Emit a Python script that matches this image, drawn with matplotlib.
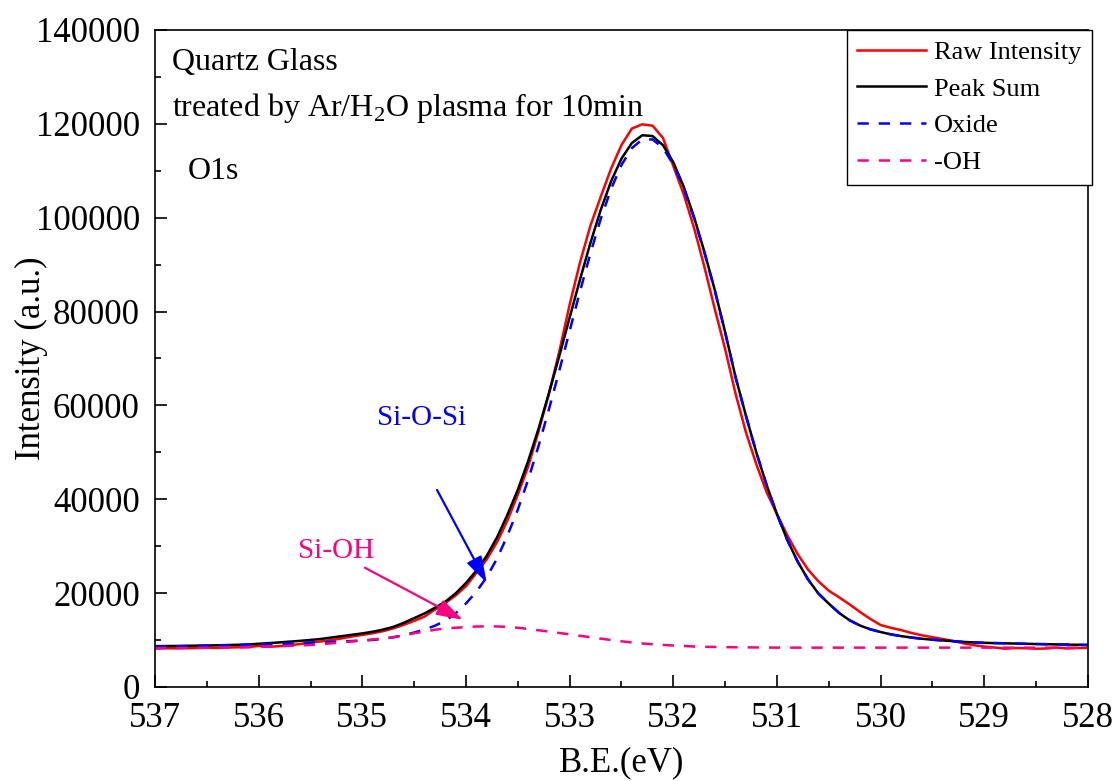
import numpy as np
import matplotlib
matplotlib.use("Agg")
import matplotlib.pyplot as plt
from matplotlib.ticker import MultipleLocator

plt.rcParams['font.family'] = ['Liberation Serif', 'DejaVu Serif']
plt.rcParams['mathtext.fontset'] = 'custom'
plt.rcParams['mathtext.rm'] = 'Liberation Serif'

# binding energy grid, 0.1 eV step from 537 down to 528
be = np.linspace(537.0, 528.0, 91)

raw = [8200, 8250, 8230, 8280, 8300, 8350, 8320, 8400, 8450, 8500,
       8750, 8550, 8700, 8900, 9150, 9500, 9700, 10000, 10350, 10750,
       11100, 11450, 11900, 12500, 13250, 14100, 15000, 16500, 17900, 19500,
       21500, 24300, 27200, 30900, 35500, 41000, 47000, 54500, 62500, 71500,
       81500, 90500, 98300, 104500, 110500, 115500, 119000, 119900, 119600, 117000,
       111000, 105000, 97800, 89500, 80500, 72000, 62500, 54300, 47500, 41500,
       36800, 32300, 28300, 25000, 22500, 20500, 19100, 17600, 16000, 14500,
       13200, 12600, 12100, 11500, 11000, 10600, 10200, 9800, 9300, 8900,
       8600, 8400, 8150, 8300, 8250, 8150, 8200, 8400, 8200, 8300,
       8350]

peak_sum = [8700, 8720, 8740, 8770, 8800, 8840, 8880, 8930, 8990, 9060,
            9210, 9340, 9500, 9660, 9830, 10020, 10230, 10530, 10820, 11120,
            11420, 11770, 12230, 12810, 13670, 14670, 15670, 16870, 18170, 19940,
            22170, 24800, 27950, 31920, 36720, 42040, 48170, 55070, 62600, 70540,
            78740, 86840, 94610, 101690, 107770, 112600, 115920, 117570, 117400, 115450,
            111810, 106620, 100130, 92700, 84600, 75610, 66080, 57860, 50040, 43020,
            36810, 31300, 26700, 22900, 19900, 17760, 15760, 14220, 13100, 12290,
            11710, 11200, 10830, 10520, 10270, 10070, 9910, 9760, 9600, 9500,
            9400, 9350, 9300, 9250, 9200, 9150, 9110, 9070, 9030, 8990,
            8950]

oxide = [8600, 8620, 8650, 8700, 8750, 8800, 8850, 8900, 8950, 9000,
         9060, 9120, 9200, 9280, 9360, 9450, 9530, 9610, 9700, 9800,
         9900, 10020, 10250, 10600, 11050, 11600, 12250, 13050, 14100, 15700,
         17800, 20300, 23400, 27400, 32300, 37800, 44200, 51370, 59180, 67420,
         75900, 84320, 92390, 99770, 106150, 111250, 114820, 116680, 116680, 114870,
         111350, 106260, 99890, 92520, 84460, 75500, 66000, 57800, 50000, 43000,
         36800, 31300, 26700, 22900, 19900, 17760, 15760, 14220, 13100, 12290,
         11710, 11200, 10830, 10520, 10270, 10070, 9910, 9760, 9600, 9500,
         9400, 9350, 9300, 9250, 9200, 9150, 9110, 9070, 9030, 8990,
         8950]

oh = [8240, 8260, 8280, 8300, 8330, 8360, 8390, 8420, 8450, 8480,
      8530, 8600, 8680, 8760, 8850, 8950, 9080, 9300, 9500, 9700,
      9900, 10130, 10360, 10590, 11000, 11450, 11800, 12200, 12450, 12620,
      12750, 12880, 12930, 12900, 12800, 12620, 12350, 12080, 11800, 11500,
      11220, 10900, 10600, 10300, 10000, 9730, 9480, 9270, 9100, 8960,
      8840, 8740, 8620, 8560, 8520, 8490, 8460, 8440, 8420, 8400,
      8390, 8380, 8380, 8380, 8380, 8380, 8380, 8380, 8380, 8380,
      8380, 8380, 8380, 8380, 8380, 8380, 8380, 8380, 8380, 8380,
      8380, 8380, 8380, 8380, 8380, 8380, 8380, 8380, 8380, 8380,
      8380]

pink = '#FF0080'

fig = plt.figure(figsize=(11.13, 7.81), dpi=100)
ax = fig.add_axes([0.1393, 0.1204, 0.8382, 0.8412])

ax.plot(be, raw, color='red', lw=1.8, label='Raw Intensity')
ax.plot(be, peak_sum, color='black', lw=1.8, label='Peak Sum')
ax.plot(be, oxide, color='blue', lw=1.8, ls=(0, (4.5, 4)), label='Oxide')
ax.plot(be, oh, color=pink, lw=1.8, ls=(0, (4.5, 4)), label='-OH')

ax.set_xlim(537, 528)
ax.set_ylim(0, 140000)
ax.xaxis.set_major_locator(MultipleLocator(1))
ax.xaxis.set_minor_locator(MultipleLocator(0.5))
ax.yaxis.set_major_locator(MultipleLocator(20000))
ax.yaxis.set_minor_locator(MultipleLocator(10000))
ax.tick_params(which='both', direction='in', top=False, right=False,
               labelsize=25, width=1.2)
ax.tick_params(which='major', length=8.5, pad=11)
ax.tick_params(which='minor', length=4.5)
for s in ax.spines.values():
    s.set_linewidth(1.2)

ax.set_xlabel('B.E.(eV)', fontsize=25, labelpad=8)
ax.set_ylabel('Intensity (a.u.)', fontsize=25, labelpad=-9)

ax.text(0.018, 0.95, 'Quartz Glass', transform=ax.transAxes,
        fontsize=23, va='center', ha='left')
ax.text(0.018, 0.881, 'treated by Ar/H$_2$O plasma for 10min',
        transform=ax.transAxes, fontsize=23, va='center', ha='left')
ax.text(0.035, 0.784, 'O1s', transform=ax.transAxes,
        fontsize=23, va='center', ha='left')

ax.text(534.43, 57300, 'Si-O-Si', color='blue', fontsize=21,
        ha='center', va='center')
ax.text(535.25, 29000, 'Si-OH', color=pink, fontsize=21,
        ha='center', va='center')
head = '-|>,head_length=0.8,head_width=0.25'
ax.annotate('', xy=(533.80, 22200), xytext=(534.28, 42000),
            arrowprops=dict(arrowstyle=head, color='blue', lw=1.6,
                            mutation_scale=20, shrinkA=0, shrinkB=0))
ax.annotate('', xy=(534.03, 14300), xytext=(534.975, 25400),
            arrowprops=dict(arrowstyle=head, color=pink, lw=1.6,
                            mutation_scale=20, shrinkA=0, shrinkB=0))

leg = ax.legend(loc='upper right', bbox_to_anchor=(1.004, 1.0),
                borderaxespad=0, fontsize=19, frameon=True, fancybox=False,
                edgecolor='black', framealpha=1, handlelength=2.6,
                handletextpad=0.3, labelspacing=0.5, borderpad=0.4)
leg.get_frame().set_linewidth(1.0)

fig.savefig('out.png', dpi=100)
